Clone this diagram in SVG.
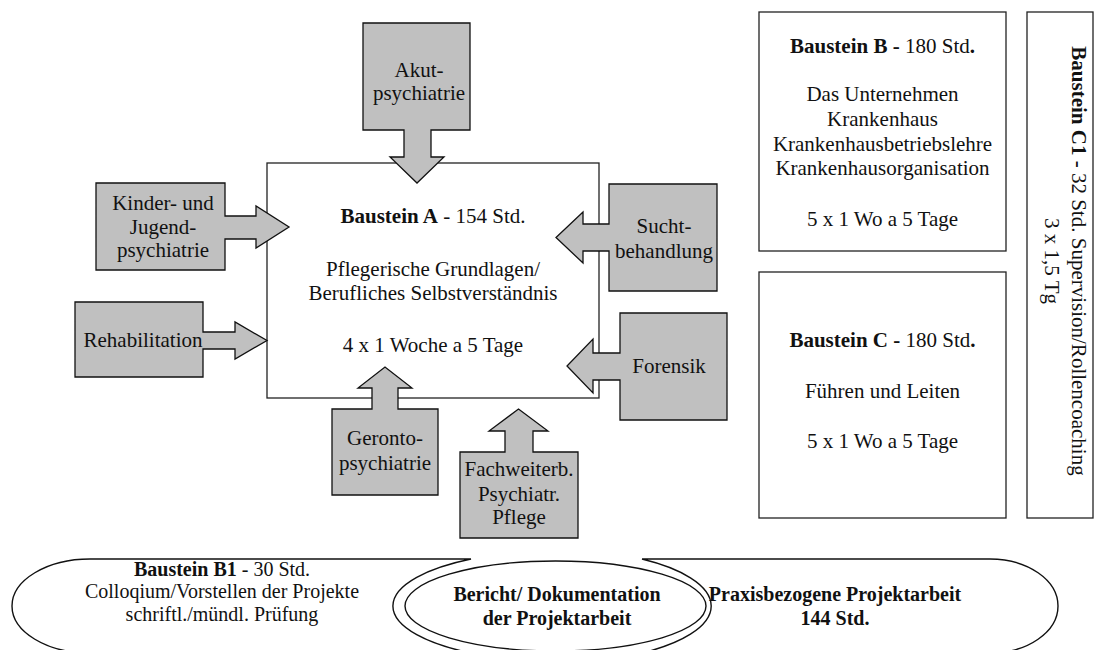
<svg xmlns="http://www.w3.org/2000/svg" width="1102" height="650" viewBox="0 0 1102 650">
<style>
text{font-family:"Liberation Serif","Times New Roman",serif;font-size:21px;fill:#111;text-anchor:middle}
.b{font-weight:bold}
.sm{font-size:20px}
.box{fill:#fff;stroke:#222;stroke-width:1.3}
.call{fill:#c0c0c0;stroke:#111;stroke-width:1.3;stroke-linejoin:miter}
.shape{fill:#fff;stroke:#111;stroke-width:1.4}
</style>
<rect width="1102" height="650" fill="#fff"/>

<g id="bausteinA">
<rect class="box" x="267" y="163" width="332" height="235"/>
<text x="433" y="223"><tspan class="b">Baustein A</tspan> - 154 Std.</text>
<text x="433" y="276">Pflegerische Grundlagen/</text>
<text x="433" y="300">Berufliches Selbstverständnis</text>
<text x="433" y="352">4 x 1 Woche a 5 Tage</text>
</g>

<g id="connectors">
<g id="akut">
<polygon class="call" points="363,23 470,23 470,130 431,130 431,157 444,157 417,183 390,157 404,157 404,130 363,130"/>
<text x="419" y="77">Akut-</text>
<text x="419" y="100">psychiatrie</text>
</g>
<g id="kinder">
<polygon class="call" points="96,183 225,183 225,216 256,216 256,206 289,227 256,248 256,239 225,239 225,270 96,270"/>
<text x="163" y="210">Kinder- und</text>
<text x="163" y="234">Jugend-</text>
<text x="163" y="257">psychiatrie</text>
</g>
<g id="rehab">
<polygon class="call" points="75,302 203,302 203,332 235,332 235,322 267,340.5 235,359 235,349 203,349 203,377 75,377"/>
<text x="143" y="347">Rehabilitation</text>
</g>
<g id="sucht">
<polygon class="call" points="717,184 609,184 609,224 583,224 583,212 556,237.5 583,263 583,251 609,251 609,291 717,291"/>
<text x="664" y="233">Sucht-</text>
<text x="664" y="258">behandlung</text>
</g>
<g id="forensik">
<polygon class="call" points="727,313 620,313 620,353 593,353 593,339 567,366 593,393 593,380 620,380 620,420 727,420"/>
<text x="669" y="373">Forensik</text>
</g>
<g id="geronto">
<polygon class="call" points="332,495 332,409 372,409 372,388 358,388 385,367 412,388 398,388 398,409 438,409 438,495"/>
<text x="385" y="445">Geronto-</text>
<text x="385" y="470">psychiatrie</text>
</g>
<g id="fachweiterb">
<polygon class="call" points="460,538 460,452 505,452 505,431 489,431 518.5,409 548,431 533,431 533,452 578,452 578,538"/>
<text x="519" y="476">Fachweiterb.</text>
<text x="519" y="501">Psychiatr.</text>
<text x="519" y="524">Pflege</text>
</g>
</g>

<g id="bausteinB">
<rect class="box" x="759" y="12" width="247" height="239"/>
<text x="882.5" y="53"><tspan class="b">Baustein B -</tspan> 180 Std<tspan class="b">.</tspan></text>
<text x="882.5" y="101">Das Unternehmen</text>
<text x="882.5" y="126">Krankenhaus</text>
<text x="882.5" y="151">Krankenhausbetriebslehre</text>
<text x="882.5" y="175">Krankenhausorganisation</text>
<text x="882.5" y="226">5 x 1 Wo a 5 Tage</text>
</g>

<g id="bausteinC">
<rect class="box" x="759" y="272" width="247" height="246"/>
<text x="882.5" y="347"><tspan class="b">Baustein C -</tspan> 180 Std<tspan class="b">.</tspan></text>
<text x="882.5" y="398">Führen und Leiten</text>
<text x="882.5" y="448">5 x 1 Wo a 5 Tage</text>
</g>

<g id="bausteinC1">
<rect class="box" x="1027" y="12" width="66" height="506"/>
<g transform="translate(1072,261) rotate(90)">
<text x="0" y="0"><tspan class="b">Baustein C1 -</tspan> 32 Std. Supervision/Rollencoaching</text>
<text x="0" y="27">3 x 1,5 Tg</text>
</g>
</g>

<g id="bausteinB1">
<path class="shape" d="M90 559 L471 559 A162.5 55 0 0 0 471 653 L90 653 A78 47 0 0 1 90 559 Z"/>
<text class="sm" x="222" y="576"><tspan class="b">Baustein B1</tspan> - 30 Std.</text>
<text class="sm" x="222" y="598">Colloqium/Vorstellen der Projekte</text>
<text class="sm" x="222" y="621">schriftl./mündl. Prüfung</text>
</g>

<g id="praxis">
<path class="shape" d="M642 559 L990 559 A68 47 0 0 1 990 653 L642 653 A155.5 56.5 0 0 0 642 559 Z"/>
<text class="sm b" x="835" y="601">Praxisbezogene Projektarbeit</text>
<text class="sm b" x="835" y="625">144 Std.</text>
</g>

<g id="bericht">
<ellipse class="shape" cx="555.5" cy="606" rx="150.5" ry="45"/>
<text class="sm b" x="557" y="601">Bericht/ Dokumentation</text>
<text class="sm b" x="557" y="625">der Projektarbeit</text>
</g>
</svg>
